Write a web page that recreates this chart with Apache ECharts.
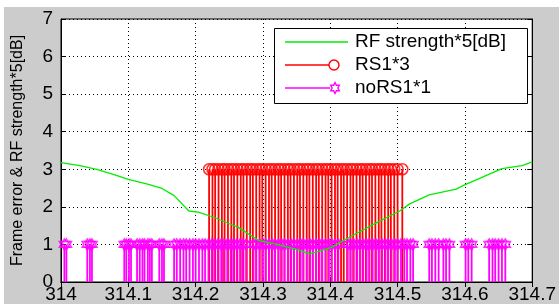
<!DOCTYPE html>
<html>
<head>
<meta charset="utf-8">
<script src="https://cdn.jsdelivr.net/npm/echarts@6/dist/echarts.min.js"></script>
<style>
  html, body { margin: 0; padding: 0; background: #fff; }
  #main { width: 559px; height: 304px; }
</style>
</head>
<body>
<div id="main"></div>
<script>
// RF strength*5 curve
var rfX = [314.0, 314.028, 314.053, 314.08, 314.1, 314.13, 314.15, 314.168, 314.19, 314.204, 314.229, 314.25, 314.263, 314.293,
    314.32, 314.347, 314.37, 314.393, 314.405, 314.42, 314.469, 314.503, 314.518, 314.547, 314.587, 314.598, 314.655, 314.685, 314.7];
var rfY = [3.18, 3.1, 3.0, 2.85, 2.73, 2.6, 2.49, 2.3, 1.89, 1.86, 1.71, 1.55, 1.46, 1.11,
    1.0, 0.88, 0.75, 0.87, 0.95, 1.11, 1.58, 1.89, 2.08, 2.32, 2.47, 2.57, 3.02, 3.1, 3.2];

// RS1*3 stems
var rs1X = [314.220, 314.225, 314.229, 314.234, 314.239, 314.243, 314.248, 314.253, 314.257, 314.262, 314.267, 314.271,
    314.276, 314.281, 314.285, 314.290, 314.295, 314.299, 314.304, 314.309, 314.313, 314.318, 314.323, 314.327, 314.332,
    314.337, 314.341, 314.346, 314.351, 314.355, 314.360, 314.365, 314.369, 314.374, 314.379, 314.383, 314.388, 314.393,
    314.397, 314.402, 314.407, 314.411, 314.416, 314.420, 314.425, 314.430, 314.434, 314.439, 314.444, 314.448, 314.453,
    314.458, 314.462, 314.467, 314.472, 314.476, 314.481, 314.486, 314.490, 314.495, 314.500, 314.507];
var rs1Val = 3;

// noRS1*1 stems
var noRs1X = [314.005, 314.008, 314.039, 314.043, 314.046, 314.094, 314.097, 314.101, 314.104, 314.113, 314.117, 314.121,
    314.124, 314.129, 314.132, 314.135, 314.146, 314.150, 314.153,
    314.168, 314.172, 314.177, 314.182, 314.186, 314.191, 314.196, 314.200, 314.205, 314.210, 314.214, 314.219, 314.224,
    314.228, 314.233, 314.238, 314.242, 314.247, 314.252, 314.256, 314.261, 314.266, 314.270, 314.275, 314.286, 314.290,
    314.295, 314.300, 314.304, 314.309, 314.314, 314.318, 314.323, 314.328, 314.332, 314.337, 314.342, 314.346, 314.351,
    314.356, 314.360, 314.365, 314.370, 314.374, 314.379, 314.384, 314.388, 314.393, 314.398, 314.402, 314.407, 314.412,
    314.426, 314.430, 314.435, 314.440, 314.444, 314.449, 314.454, 314.458, 314.463, 314.468, 314.472, 314.477, 314.482,
    314.486, 314.491, 314.496, 314.500, 314.505, 314.510, 314.514, 314.519, 314.523,
    314.547, 314.551, 314.556, 314.561, 314.568, 314.572, 314.577, 314.601, 314.605, 314.610,
    314.636, 314.641, 314.645, 314.650, 314.655, 314.660];
var noRs1Val = 1;

var legendNames = ['RF strength*5[dB]', 'RS1*3', 'noRS1*1'];
var yName = 'Frame error & RF strength*5[dB]';

var hexagram = 'path://M0,-10L2.89,-5L8.66,-5L5.77,0L8.66,5L2.89,5L0,10L-2.89,5L-8.66,5L-5.77,0L-8.66,-5L-2.89,-5Z';
var font = '"Liberation Sans", Arial, sans-serif';

function pairs(xs, v) {
    var out = [];
    for (var i = 0; i < xs.length; i++) out.push([xs[i], v]);
    return out;
}
function zip(xs, ys) {
    var out = [];
    for (var i = 0; i < xs.length; i++) out.push([xs[i], ys[i]]);
    return out;
}
// stem from 0 to value
function stemRender(color) {
    return function (params, api) {
        var p0 = api.coord([api.value(0), 0]);
        var p1 = api.coord([api.value(0), api.value(1)]);
        return {
            type: 'line',
            shape: { x1: p0[0], y1: p0[1], x2: p1[0], y2: p1[1] },
            style: { stroke: color, lineWidth: 1.8 }
        };
    };
}

var chart = echarts.init(document.getElementById('main'));
var gridLine = { show: true, lineStyle: { color: '#000', type: [1, 3], width: 1 } };

var option = {
    backgroundColor: '#cccccc',
    animation: false,
    grid: { left: 61, right: 23, top: 19, bottom: 22, show: true, backgroundColor: '#fff', borderColor: '#000', borderWidth: 1 },
    xAxis: [{
        type: 'value', min: 314, max: 314.7, interval: 0.1,
        axisLine: { show: true, onZero: false, lineStyle: { color: '#000' } },
        axisTick: { show: true, inside: true, length: 5, lineStyle: { color: '#000' } },
        axisLabel: { color: '#000', fontSize: 19, fontFamily: font, margin: 3,
            formatter: function (v) { return (Math.round(v * 10) / 10).toString(); } },
        splitLine: gridLine
    }, {
        type: 'value', min: 314, max: 314.7, interval: 0.1, position: 'top',
        axisLine: { show: true, lineStyle: { color: '#000' } },
        axisTick: { show: true, inside: true, length: 5, lineStyle: { color: '#000' } },
        axisLabel: { show: false }, splitLine: { show: false }
    }],
    yAxis: [{
        type: 'value', min: 0, max: 7, interval: 1,
        name: yName, nameLocation: 'middle', nameGap: 35,
        nameTextStyle: { color: '#000', fontSize: 16, fontFamily: font },
        axisLine: { show: true, onZero: false, lineStyle: { color: '#000' } },
        axisTick: { show: true, inside: true, length: 5, lineStyle: { color: '#000' } },
        axisLabel: { color: '#000', fontSize: 19, fontFamily: font, margin: 8 },
        splitLine: gridLine
    }, {
        type: 'value', min: 0, max: 7, interval: 1, position: 'right',
        axisLine: { show: true, lineStyle: { color: '#000' } },
        axisTick: { show: true, inside: true, length: 5, lineStyle: { color: '#000' } },
        axisLabel: { show: false }, splitLine: { show: false }
    }],
    series: [
        {
            name: legendNames[1], type: 'custom', renderItem: stemRender('#ff0000'),
            encode: { x: 0, y: 1 }, data: pairs(rs1X, rs1Val), z: 2, clip: true
        },
        {
            name: legendNames[1] + '_m', type: 'scatter', data: pairs(rs1X, rs1Val), symbol: 'circle', symbolSize: 11,
            itemStyle: { color: 'rgba(0,0,0,0)', borderColor: '#ff0000', borderWidth: 1.6 }, z: 3, silent: true
        },
        {
            name: legendNames[2], type: 'custom', renderItem: stemRender('#ff00ff'),
            encode: { x: 0, y: 1 }, data: pairs(noRs1X, noRs1Val), z: 4, clip: true
        },
        {
            name: legendNames[2] + '_m', type: 'scatter', data: pairs(noRs1X, noRs1Val), symbol: hexagram, symbolSize: [10, 11],
            itemStyle: { color: 'rgba(0,0,0,0)', borderColor: '#ff00ff', borderWidth: 1.6 }, z: 5, silent: true
        },
        {
            name: legendNames[0], type: 'line', data: zip(rfX, rfY), showSymbol: false, symbol: 'none',
            lineStyle: { color: '#00ee00', width: 1.3 }, z: 6
        }
    ],
    graphic: [
        // white strips at the edges of the figure
        { type: 'rect', left: 0, top: 0, shape: { width: 559, height: 7 }, style: { fill: '#fff' }, z: -1 },
        { type: 'rect', left: 0, top: 0, shape: { width: 4, height: 304 }, style: { fill: '#fff' }, z: -1 },
        // legend box
        { type: 'rect', shape: { x: 274.5, y: 28.5, width: 253, height: 75 }, style: { fill: '#fff', stroke: '#000', lineWidth: 1 }, z: 10 },
        { type: 'line', shape: { x1: 285, y1: 42, x2: 348, y2: 42 }, style: { stroke: '#00ee00', lineWidth: 1.3 }, z: 11 },
        { type: 'line', shape: { x1: 285, y1: 65, x2: 329, y2: 65 }, style: { stroke: '#ff0000', lineWidth: 1.3 }, z: 11 },
        { type: 'circle', shape: { cx: 334, cy: 65, r: 5 }, style: { fill: 'none', stroke: '#ff0000', lineWidth: 1.4 }, z: 11 },
        { type: 'line', shape: { x1: 285, y1: 88, x2: 330, y2: 88 }, style: { stroke: '#ff00ff', lineWidth: 1.3 }, z: 11 },
        { type: 'polygon', shape: { points: [[335, 82.5], [336.4, 85.3], [339.3, 85.3], [337.9, 88], [339.3, 90.8], [336.4, 90.8],
            [335, 93.5], [333.6, 90.8], [330.7, 90.8], [332.1, 88], [330.7, 85.3], [333.6, 85.3]] },
            style: { fill: 'none', stroke: '#ff00ff', lineWidth: 1.4 }, z: 11 },
        { type: 'text', x: 355, y: 42, style: { text: legendNames[0], fill: '#000', font: '19px ' + font, verticalAlign: 'middle' }, z: 11 },
        { type: 'text', x: 355, y: 65, style: { text: legendNames[1], fill: '#000', font: '19px ' + font, verticalAlign: 'middle' }, z: 11 },
        { type: 'text', x: 355, y: 88, style: { text: legendNames[2], fill: '#000', font: '19px ' + font, verticalAlign: 'middle' }, z: 11 }
    ]
};
chart.setOption(option);
</script>
</body>
</html>
